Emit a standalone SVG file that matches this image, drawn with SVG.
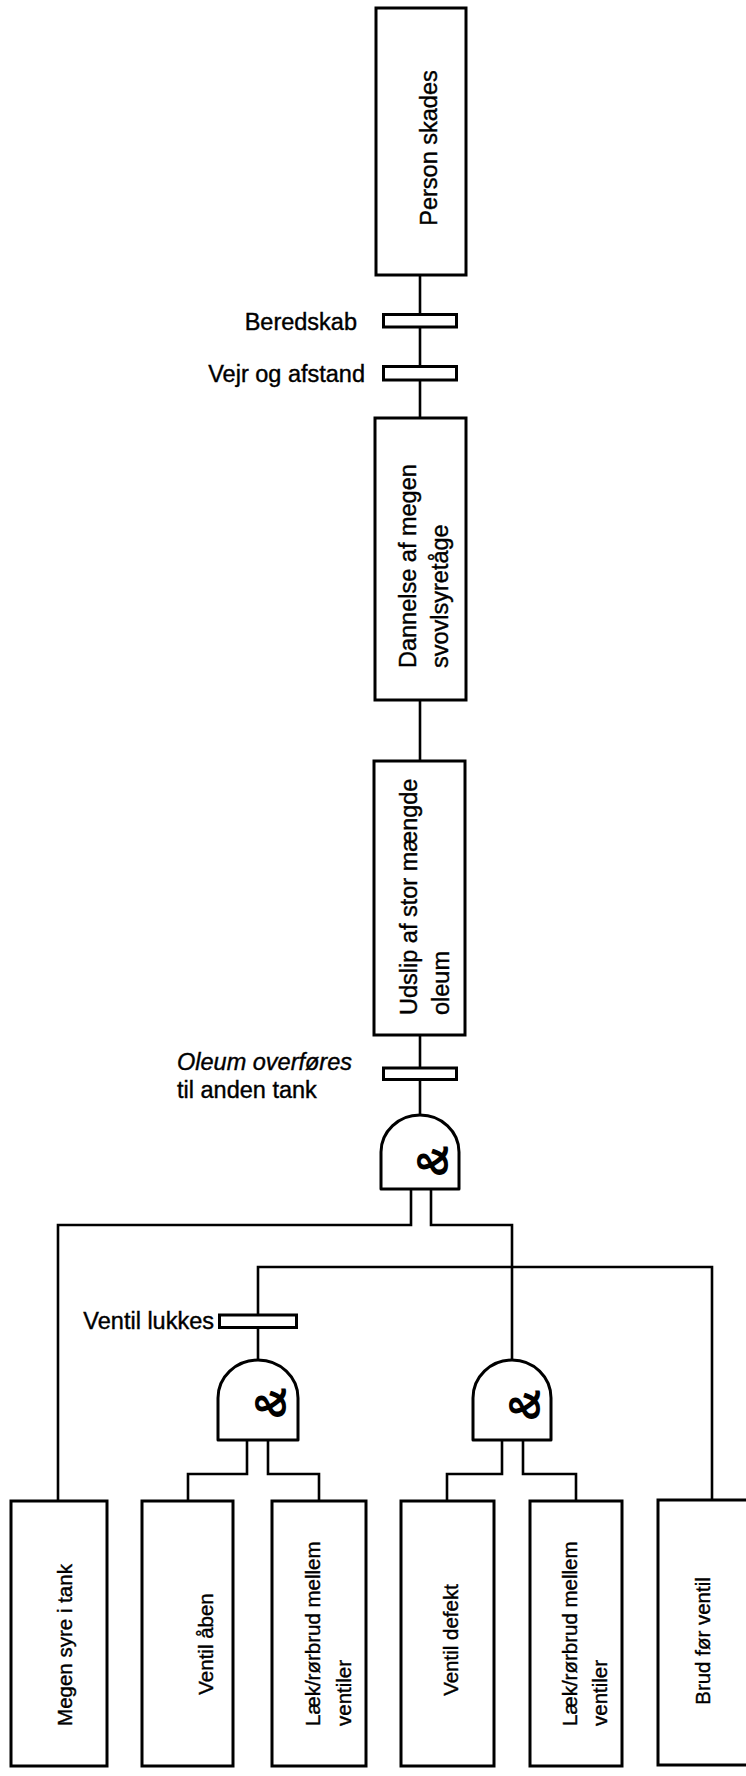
<svg xmlns="http://www.w3.org/2000/svg" width="746" height="1776" viewBox="0 0 746 1776">
<style>
  .box { fill: #fff; stroke: #000; stroke-width: 3; }
  .bar { fill: #fff; stroke: #000; stroke-width: 3; }
  .gate { fill: #fff; stroke: #000; stroke-width: 3; stroke-linejoin: round; }
  .ln { fill: none; stroke: #000; stroke-width: 2.6; }
  .t { font-family: "Liberation Sans", Arial, sans-serif; font-size: 23.5px; fill: #000; stroke: #000; stroke-width: 0.4; }
  .tb { font-family: "Liberation Sans", Arial, sans-serif; font-size: 20.5px; fill: #000; stroke: #000; stroke-width: 0.4; }
  .amp { font-family: "Liberation Sans", Arial, sans-serif; font-size: 44px; font-weight: bold; fill: #000; }
</style>
<rect width="746" height="1776" fill="#fff"/>

<g id="connectors">
  <line class="ln" x1="420" y1="275" x2="420" y2="314"/>
  <line class="ln" x1="420" y1="327" x2="420" y2="366"/>
  <line class="ln" x1="420" y1="380" x2="420" y2="418"/>
  <line class="ln" x1="420" y1="700" x2="420" y2="761"/>
  <line class="ln" x1="420" y1="1035" x2="420" y2="1068"/>
  <line class="ln" x1="420" y1="1079" x2="420" y2="1115"/>
  <polyline class="ln" points="411,1189 411,1225 58,1225 58,1501"/>
  <polyline class="ln" points="431,1189 431,1225 512,1225 512,1360"/>
  <polyline class="ln" points="258,1314 258,1267 712,1267 712,1500"/>
  <line class="ln" x1="258" y1="1328" x2="258" y2="1360"/>
  <polyline class="ln" points="247,1440 247,1474 188,1474 188,1501"/>
  <polyline class="ln" points="268,1440 268,1474 319,1474 319,1501"/>
  <polyline class="ln" points="502,1440 502,1474 447,1474 447,1501"/>
  <polyline class="ln" points="523,1440 523,1474 576,1474 576,1501"/>
</g>

<g id="person-skades">
  <rect class="box" x="376" y="8" width="90" height="267"/>
  <text class="t" text-anchor="middle" transform="translate(437,148) rotate(-90)">Person skades</text>
</g>

<g id="beredskab">
  <rect class="bar" x="383.5" y="314.5" width="73" height="12.5"/>
  <text class="t" text-anchor="end" x="357" y="330">Beredskab</text>
</g>

<g id="vejr-og-afstand">
  <rect class="bar" x="383.5" y="366.5" width="73" height="13.5"/>
  <text class="t" text-anchor="end" x="365" y="382">Vejr og afstand</text>
</g>

<g id="dannelse">
  <rect class="box" x="375" y="418" width="91" height="282"/>
  <text class="t" transform="translate(416,668) rotate(-90)"><tspan x="0" y="0">Dannelse af megen</tspan><tspan x="0" y="32">svovlsyretåge</tspan></text>
</g>

<g id="udslip">
  <rect class="box" x="374" y="761" width="91" height="274"/>
  <text class="t" transform="translate(417,1015) rotate(-90)"><tspan x="0" y="0">Udslip af stor mængde</tspan><tspan x="0" y="32">oleum</tspan></text>
</g>

<g id="oleum-overfoeres">
  <rect class="bar" x="383.5" y="1068" width="73" height="11.5"/>
  <text class="t" x="177" y="1070" font-style="italic">Oleum overføres</text>
  <text class="t" x="177" y="1098">til anden tank</text>
</g>

<g id="gate-1">
  <path class="gate" d="M381,1189 V1152 A39,37 0 0 1 459,1152 V1189 Z"/>
  <text class="amp" text-anchor="middle" dominant-baseline="central" transform="translate(432,1161) rotate(-90)">&amp;</text>
</g>

<g id="ventil-lukkes">
  <rect class="bar" x="219.5" y="1315" width="77" height="12.5"/>
  <text class="t" text-anchor="end" x="214" y="1329">Ventil lukkes</text>
</g>

<g id="gate-2">
  <path class="gate" d="M218,1440 V1398 A40,38 0 0 1 298,1398 V1440 Z"/>
  <text class="amp" text-anchor="middle" dominant-baseline="central" transform="translate(270,1403) rotate(-90)">&amp;</text>
</g>

<g id="gate-3">
  <path class="gate" d="M473,1440 V1398 A39,38 0 0 1 551,1398 V1440 Z"/>
  <text class="amp" text-anchor="middle" dominant-baseline="central" transform="translate(524,1405) rotate(-90)">&amp;</text>
</g>

<g id="megen-syre">
  <rect class="box" x="11" y="1501" width="96" height="265"/>
  <text class="tb" text-anchor="middle" transform="translate(72,1645) rotate(-90)">Megen syre i tank</text>
</g>

<g id="ventil-aaben">
  <rect class="box" x="142" y="1501" width="91" height="265"/>
  <text class="tb" text-anchor="middle" transform="translate(213,1644) rotate(-90)">Ventil åben</text>
</g>

<g id="laek-1">
  <rect class="box" x="272" y="1501" width="94" height="265"/>
  <text class="tb" transform="translate(320,1726) rotate(-90)"><tspan x="0" y="0">Læk/rørbrud mellem</tspan><tspan x="0" y="31">ventiler</tspan></text>
</g>

<g id="ventil-defekt">
  <rect class="box" x="401" y="1501" width="93" height="265"/>
  <text class="tb" text-anchor="middle" transform="translate(458,1640) rotate(-90)">Ventil defekt</text>
</g>

<g id="laek-2">
  <rect class="box" x="530" y="1501" width="92" height="265"/>
  <text class="tb" transform="translate(577,1726) rotate(-90)"><tspan x="0" y="0">Læk/rørbrud mellem</tspan><tspan x="0" y="30">ventiler</tspan></text>
</g>

<g id="brud-foer-ventil">
  <rect class="box" x="658" y="1500" width="100" height="265"/>
  <text class="tb" text-anchor="middle" transform="translate(710,1641) rotate(-90)">Brud før ventil</text>
</g>
</svg>
